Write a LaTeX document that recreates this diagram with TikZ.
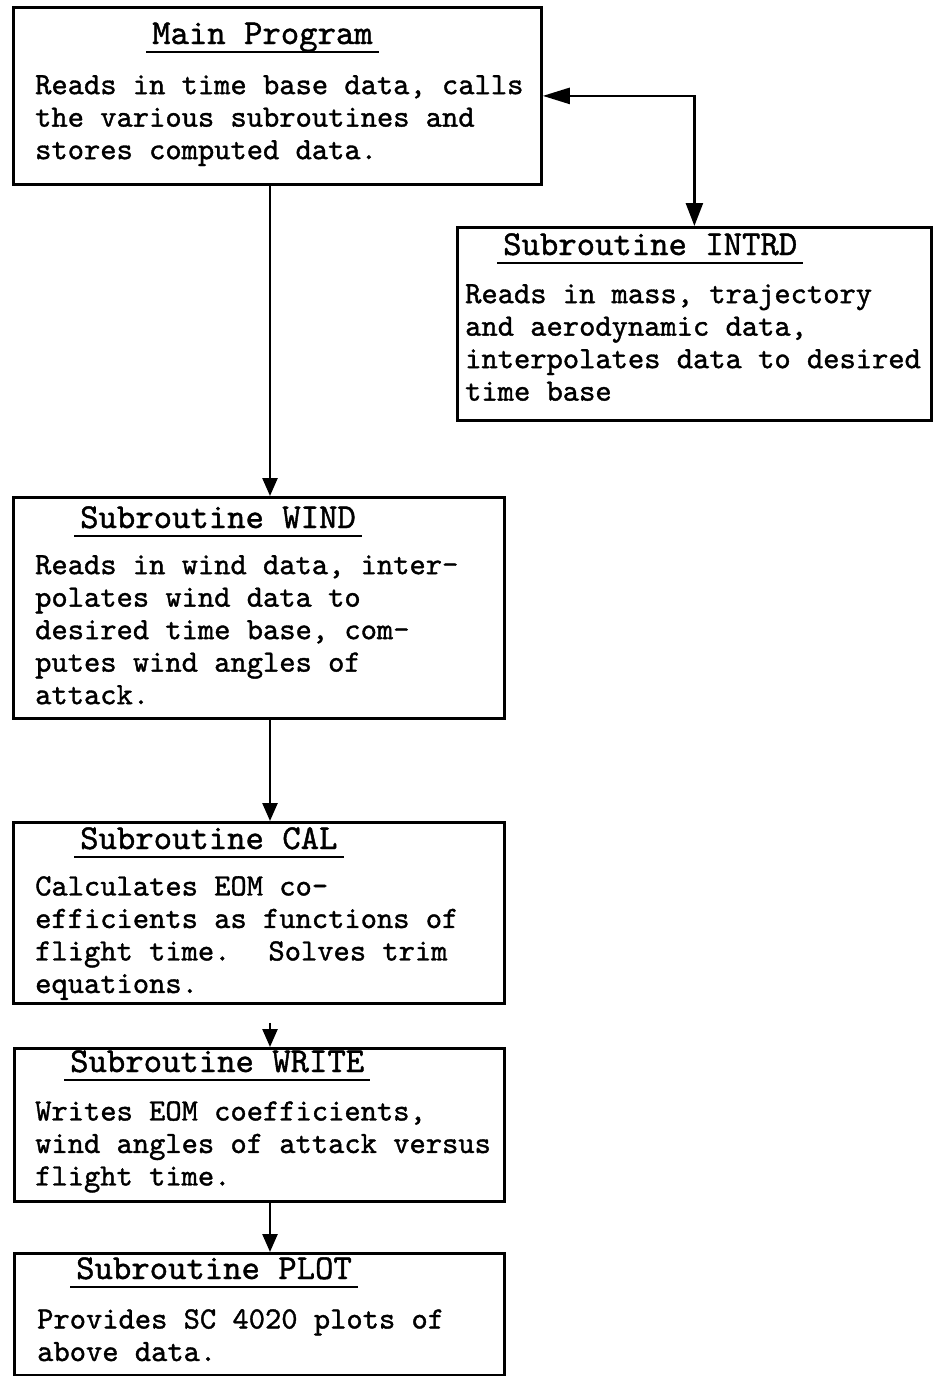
\documentclass[tikz,border=0pt]{standalone}
\usepackage{fontspec}
\newfontfamily\typew{lmmono10-regular.otf}[FakeBold=1.2]
\usetikzlibrary{arrows.meta}
\begin{document}
\begin{tikzpicture}[x=1pt,y=-1pt,
    box/.style={draw,line width=2.8pt,anchor=north west,inner sep=0pt},
    head/.style={anchor=base west,inner sep=0pt,font=\fontsize{35}{40}\selectfont\typew},
    body/.style={anchor=north west,inner sep=0pt,align=left,font=\fontsize{31}{32.5}\selectfont\typew},
    uline/.style={line width=1.8pt},
    flow/.style={line width=2.5pt,-{Triangle[length=18pt,width=15pt]}},
    both/.style={line width=2.5pt,{Triangle[length=27pt,width=16pt]}-{Triangle[length=23pt,width=17pt]}}]
  \useasboundingbox (0,0) rectangle (935,1376);
  \draw
    (12,6) node[box,minimum width=528pt,minimum height=177pt] (main){}
    (456,226) node[box,minimum width=474pt,minimum height=193pt] (intrd){}
    (12,496) node[box,minimum width=491pt,minimum height=221pt] (wind){}
    (12,821) node[box,minimum width=491pt,minimum height=181pt] (cal){}
    (13,1047) node[box,minimum width=490pt,minimum height=153pt] (write){}
    (13,1252) node[box,minimum width=490pt,minimum height=122pt] (plot){};
  \draw
    (152,44) node[head] (tmain){Main Program}
    (503,255) node[head] (tintrd){Subroutine INTRD}
    (80,528) node[head] (twind){Subroutine WIND}
    (80,849) node[head] (tcal){Subroutine CAL}
    (70,1072) node[head] (twrite){Subroutine WRITE}
    (76,1279) node[head] (tplot){Subroutine PLOT};
  \foreach \t in {tmain,tintrd,twind,tcal,twrite,tplot}
    \draw[uline] ([xshift=-6pt,yshift=-8pt]\t.base west) -- ([xshift=6pt,yshift=-8pt]\t.base east);
  \draw
    (35,75) node[body] (bmain){Reads in time base data, calls\\the various subroutines and\\stores computed data.}
    (465,284) node[body] (bintrd){Reads in mass, trajectory\\and aerodynamic data,\\interpolates data to desired\\time base}
    (35,555) node[body] (bwind){Reads in wind data, inter-\\polates wind data to\\desired time base, com-\\putes wind angles of\\attack.}
    (35,876) node[body] (bcal){Calculates EOM co-\\efficients as functions of\\flight time.~ Solves trim\\equations.}
    (35,1101) node[body] (bwrite){Writes EOM coefficients,\\wind angles of attack versus\\flight time.}
    (37,1309) node[body] (bplot){Provides SC 4020 plots of\\above data.};
  \coordinate (spine) at (270,0);
  \begin{scope}
    \draw[flow] (main.south -| spine) -- (wind.north -| spine);
    \draw[flow] (wind.south -| spine) -- (cal.north -| spine);
    \draw[flow,shorten <=18pt] (cal.south -| spine) -- (write.north -| spine);
    \draw[flow] (write.south -| spine) -- (plot.north -| spine);
    \draw[both] (main.east) -| (intrd.north);
  \end{scope}
\end{tikzpicture}
\end{document}
